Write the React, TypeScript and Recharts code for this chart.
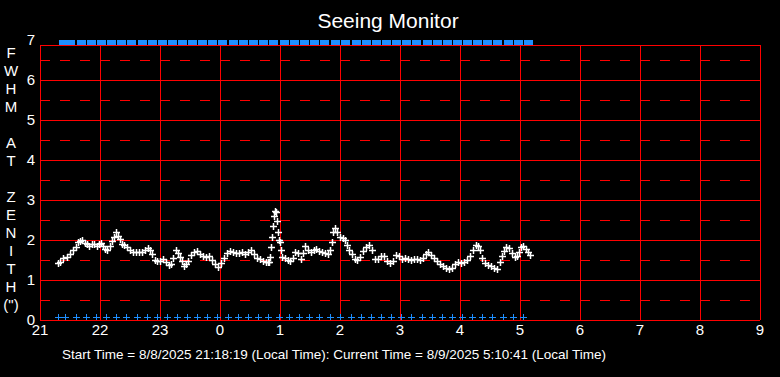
import React from "react";
import { ScatterChart, Scatter, XAxis, YAxis, ReferenceLine } from "recharts";

const title = "Seeing Monitor";
const yLabelLines = ["F", "W", "H", "M", "", "A", "T", "", "Z", "E", "N", "I", "T", "H", "(\")"];
const footer =
  "Start Time = 8/8/2025 21:18:19 (Local Time): Current Time = 8/9/2025 5:10:41 (Local Time)";

const hourTicks = [21, 22, 23, 24, 25, 26, 27, 28, 29, 30, 31, 32, 33];
const fwhmTicks = [0, 1, 2, 3, 4, 5, 6, 7];
const majorLines = [0, 1, 2, 3, 4, 5, 6];
const halfLines = [0.5, 1.5, 2.5, 3.5, 4.5, 5.5, 6.5];
const frameTop = 6.875;

// FWHM samples (local time, arcsec)
const sampleTimes = [
  "21:18", "21:20", "21:23", "21:27", "21:30", "21:33", "21:36", "21:38", "21:40", "21:42",
  "21:45", "21:47", "21:49", "21:52", "21:54", "21:57", "21:59", "22:01", "22:03", "22:05",
  "22:07", "22:10", "22:12", "22:14", "22:16", "22:18", "22:20", "22:22", "22:24", "22:27",
  "22:30", "22:33", "22:36", "22:39", "22:42", "22:45", "22:48", "22:50", "22:52", "22:55",
  "22:57", "23:00", "23:03", "23:06", "23:09", "23:11", "23:13", "23:16", "23:18", "23:20",
  "23:22", "23:24", "23:26", "23:28", "23:31", "23:34", "23:37", "23:40", "23:43", "23:46",
  "23:49", "23:52", "23:55", "23:58", "0:01", "0:04", "0:07", "0:10", "0:13", "0:16",
  "0:19", "0:22", "0:25", "0:28", "0:31", "0:34", "0:37", "0:40", "0:43", "0:46",
  "0:48", "0:49", "0:50", "0:51", "0:52", "0:53", "0:54", "0:55", "0:56", "0:57",
  "0:58", "0:59", "1:00", "1:01", "1:02", "1:05", "1:08", "1:10", "1:13", "1:15",
  "1:18", "1:21", "1:23", "1:25", "1:28", "1:31", "1:34", "1:36", "1:39", "1:42",
  "1:45", "1:48", "1:50", "1:52", "1:53", "1:55", "1:57", "2:00", "2:03", "2:05",
  "2:07", "2:09", "2:12", "2:15", "2:17", "2:20", "2:23", "2:26", "2:29", "2:32",
  "2:35", "2:38", "2:41", "2:44", "2:47", "2:50", "2:53", "2:56", "2:59", "3:02",
  "3:05", "3:08", "3:11", "3:14", "3:17", "3:20", "3:23", "3:26", "3:28", "3:31",
  "3:34", "3:37", "3:40", "3:43", "3:46", "3:49", "3:52", "3:55", "3:58", "4:01",
  "4:04", "4:07", "4:10", "4:13", "4:16", "4:18", "4:20", "4:22", "4:25", "4:28",
  "4:31", "4:34", "4:37", "4:40", "4:42", "4:44", "4:46", "4:49", "4:52", "4:55",
  "4:57", "4:59", "5:01", "5:03", "5:06", "5:08", "5:10",
];
const fwhmValues = [
  1.43, 1.46, 1.54, 1.58, 1.64, 1.75, 1.82, 1.94, 1.98, 2.0,
  1.93, 1.89, 1.86, 1.91, 1.89, 1.86, 1.9, 1.92, 1.84, 1.77,
  1.74, 1.85, 1.97, 2.08, 2.21, 2.1, 2.03, 1.9, 1.88, 1.82,
  1.75, 1.7, 1.69, 1.69, 1.7, 1.74, 1.79, 1.75, 1.66, 1.5,
  1.47, 1.48, 1.52, 1.44, 1.38, 1.4, 1.56, 1.76, 1.68, 1.58,
  1.48, 1.36, 1.4, 1.48, 1.62, 1.7, 1.72, 1.65, 1.6, 1.58,
  1.59, 1.5, 1.4, 1.33, 1.43, 1.56, 1.67, 1.72, 1.7, 1.67,
  1.67, 1.69, 1.66, 1.7, 1.75, 1.65, 1.56, 1.52, 1.48, 1.46,
  1.46, 1.45, 1.57, 1.83, 2.08, 2.36, 2.6, 2.72, 2.7, 2.48,
  2.21, 2.0, 1.96, 1.75, 1.58, 1.54, 1.5, 1.47, 1.54, 1.71,
  1.67, 1.52, 1.67, 1.86, 1.76, 1.7, 1.74, 1.78, 1.73, 1.7,
  1.67, 1.66, 1.75, 1.95, 2.2, 2.3, 2.2, 2.08, 2.06, 2.0,
  1.88, 1.76, 1.66, 1.52, 1.5, 1.58, 1.72, 1.83, 1.87, 1.74,
  1.52, 1.52, 1.6, 1.6, 1.48, 1.43, 1.47, 1.62, 1.59, 1.53,
  1.54, 1.53, 1.49, 1.52, 1.53, 1.49, 1.56, 1.64, 1.69, 1.62,
  1.56, 1.48, 1.41, 1.35, 1.3, 1.28, 1.3, 1.4, 1.45, 1.42,
  1.45, 1.5, 1.6, 1.75, 1.87, 1.84, 1.74, 1.56, 1.42, 1.37,
  1.35, 1.31, 1.28, 1.44, 1.6, 1.72, 1.83, 1.79, 1.68, 1.58,
  1.6, 1.71, 1.82, 1.85, 1.77, 1.7, 1.63,
];

// status markers (blue), drawn along the top and bottom of the plot
const statusTimes = [
  "21:18", "21:25", "21:36", "21:46", "21:56", "22:06", "22:16", "22:26", "22:37", "22:47",
  "22:57", "23:07", "23:17", "23:27", "23:37", "23:47", "23:57", "0:08", "0:18", "0:28",
  "0:38", "0:48", "0:59", "1:09", "1:19", "1:29", "1:39", "1:50", "2:00", "2:11",
  "2:21", "2:31", "2:41", "2:51", "3:01", "3:11", "3:22", "3:32", "3:42", "3:52",
  "4:02", "4:12", "4:22", "4:32", "4:43", "4:53", "5:03",
];
const statusTopLevel = 6.94;
const statusBottomLevel = 0.07;

const RED = "#ff0000";
const BLUE = "#1e8fff";
const FONT = "'Liberation Sans', Arial, sans-serif";

const toHours = (hhmm: string) => {
  const [h, m] = hhmm.split(":").map(Number);
  return (h < 12 ? h + 24 : h) + m / 60;
};

const fwhmData = sampleTimes.map((t, i) => ({ t: toHours(t), v: fwhmValues[i] }));
const statusTopData = statusTimes.map((t) => ({ t: toHours(t), v: statusTopLevel }));
const statusBottomData = statusTimes.map((t) => ({ t: toHours(t), v: statusBottomLevel }));

const PlusMark = ({ cx, cy, color, width = 1 }: { cx: number; cy: number; color: string; width?: number }) => {
  const x = Math.round(cx) + 0.5;
  const y = Math.round(cy) + 0.5;
  return (
    <g stroke={color} strokeWidth={width}>
      <line x1={x - 3.5} y1={y} x2={x + 3.5} y2={y} />
      <line x1={x} y1={y - 3.5} x2={x} y2={y + 3.5} />
    </g>
  );
};

const StatusBlock = ({ cx, cy }: { cx: number; cy: number }) => (
  <rect
    x={Math.round(cx) + 1}
    y={Math.round(cy) - 3}
    width={9}
    height={6}
    fill={BLUE}
    shapeRendering="crispEdges"
  />
);

const tickStyle = { fill: "#ffffff", fontSize: 15, fontFamily: FONT };

export default function App() {
  return (
    <div style={{ position: "absolute", left: 0, top: 0, width: 780, height: 377, background: "#000" }}>
      <ScatterChart width={780} height={377} margin={{ top: 40, right: 20, bottom: 27, left: 0 }}>
        <XAxis
          type="number"
          dataKey="t"
          domain={[21, 33]}
          ticks={hourTicks}
          interval={0}
          allowDataOverflow
          tickFormatter={(h: number) => String(h % 24)}
          axisLine={false}
          tickLine={false}
          tickSize={0}
          tickMargin={4}
          tick={tickStyle}
        />
        <YAxis
          type="number"
          dataKey="v"
          domain={[0, 7]}
          ticks={fwhmTicks}
          interval={0}
          allowDataOverflow
          width={40}
          axisLine={false}
          tickLine={false}
          tickSize={0}
          tickMargin={5}
          tick={tickStyle}
        />
        {halfLines.map((v) => (
          <ReferenceLine
            key={`h${v}`}
            y={v}
            stroke={RED}
            strokeDasharray="10 10"
            shapeRendering="crispEdges"
          />
        ))}
        {majorLines.map((v) => (
          <ReferenceLine key={`m${v}`} y={v} stroke={RED} shapeRendering="crispEdges" />
        ))}
        <ReferenceLine y={frameTop} stroke={RED} shapeRendering="crispEdges" />
        {hourTicks.map((h) => (
          <ReferenceLine
            key={`x${h}`}
            segment={[
              { x: h, y: 0 },
              { x: h, y: frameTop },
            ]}
            stroke={RED}
            shapeRendering="crispEdges"
          />
        ))}
        <Scatter
          data={statusTopData}
          isAnimationActive={false}
          shape={(p: any) => <StatusBlock cx={p.cx} cy={p.cy} />}
        />
        <Scatter
          data={statusBottomData}
          isAnimationActive={false}
          shape={(p: any) => <PlusMark cx={p.cx} cy={p.cy} color={BLUE} />}
        />
        <Scatter
          data={fwhmData}
          isAnimationActive={false}
          shape={(p: any) => <PlusMark cx={p.cx} cy={p.cy} color="#ffffff" width={1.5} />}
        />
      </ScatterChart>
      <svg
        width={780}
        height={377}
        style={{ position: "absolute", left: 0, top: 0, pointerEvents: "none" }}
      >
        <text x={388} y={28} textAnchor="middle" fill="#ffffff" fontSize={21} fontFamily={FONT}>
          {title}
        </text>
        {yLabelLines.map((s, i) => (
          <text
            key={i}
            x={11}
            y={53 + i * 18}
            dy="0.35em"
            textAnchor="middle"
            fill="#ffffff"
            fontSize={15}
            fontFamily={FONT}
          >
            {s}
          </text>
        ))}
        <text x={62} y={359} fill="#ffffff" fontSize={13.5} fontFamily={FONT}>
          {footer}
        </text>
      </svg>
    </div>
  );
}
